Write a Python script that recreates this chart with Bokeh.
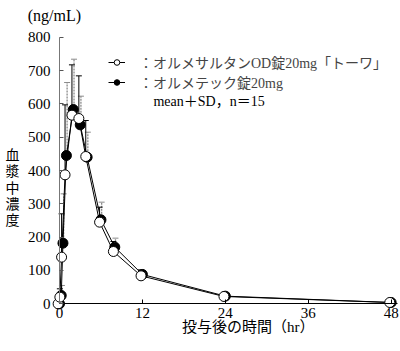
from bokeh.plotting import figure
from bokeh.models import (ColumnDataSource, Whisker, TeeHead, Label, Legend,
                          LegendItem, FixedTicker, Range1d)
from bokeh.transform import dodge
from bokeh.embed import file_html
from bokeh.resources import INLINE

# ---- data ----
hours = [0, 0.25, 0.5, 1, 2, 3, 4, 6, 8, 12, 24, 48]
od_mean = [0, 20, 140, 387, 566, 556, 442, 245, 157, 84, 22, 4]
od_sd = [0, 25, 130, 210, 151, 128, 108, 45, 30, 18, 6, 2]
ref_mean = [0, 25, 182, 445, 583, 537, 440, 252, 170, 88, 23, 4]
ref_sd = [0, 30, 148, 219, 151, 86, 75, 53, 27, 12, 5, 2]
x_ticks = [0, 12, 24, 36, 48]
y_ticks = [0, 100, 200, 300, 400, 500, 600, 700, 800]
od_name = "：オルメサルタンOD錠20mg「トーワ」"
ref_name = "：オルメテック錠20mg"
note = "mean＋SD，n＝15"
x_title = "投与後の時間（hr）"
y_title = "血\n漿\n中\n濃\n度"
unit = "(ng/mL)"

SERIF = "'Liberation Serif', 'Noto Sans CJK JP'"

src = ColumnDataSource(dict(
    t=hours,
    od=od_mean, od_top=[m + s for m, s in zip(od_mean, od_sd)],
    ref=ref_mean, ref_top=[m + s for m, s in zip(ref_mean, ref_sd)],
))

# frame covers the whole canvas; axes are placed at x=0 / y=0
p = figure(width=400, height=351, output_backend="svg", toolbar_location=None,
           x_range=Range1d(-8.54, 49.35), y_range=Range1d(-143.1, 910.1),
           min_border_left=0, min_border_right=0, min_border_top=0,
           min_border_bottom=0)
p.outline_line_color = None
p.grid.visible = False
p.background_fill_color = "white"

# error bars (upper only)
w_ref = Whisker(base=dodge("t", 0.1), lower="ref", upper="ref_top", source=src,
                dimension="height", line_color="#8a8a8a", line_width=1.3,
                line_dash="2 1", lower_head=None,
                upper_head=TeeHead(size=6, line_color="#8a8a8a", line_width=1),
                level="underlay")
w_od = Whisker(base=dodge("t", -0.2), lower="od", upper="od_top", source=src,
               dimension="height", line_color="black", line_width=1,
               lower_head=None,
               upper_head=TeeHead(size=6, line_color="black", line_width=1),
               level="underlay")
p.add_layout(w_ref)
p.add_layout(w_od)

# reference product (filled)
l_ref = p.line(x="t", y="ref", source=src, line_color="black", line_width=1)
c_ref = p.scatter(x="t", y="ref", source=src, size=10, marker="circle",
                  fill_color="black", line_color="black", line_width=1)
# test product (open), drawn slightly left
l_od = p.line(x=dodge("t", -0.2), y="od", source=src, line_color="black",
              line_width=1)
c_od = p.scatter(x=dodge("t", -0.2), y="od", source=src, size=10,
                 marker="circle", fill_color="white", line_color="black",
                 line_width=1)

# axes
xa = p.xaxis[0]
ya = p.yaxis[0]
xa.fixed_location = 0
ya.fixed_location = 0
xa.bounds = (0, 48.9)
ya.bounds = (0, 800)
xa.ticker = FixedTicker(ticks=x_ticks)
ya.ticker = FixedTicker(ticks=y_ticks)
xa.minor_tick_line_color = None
ya.minor_tick_line_color = None
for ax in (xa, ya):
    ax.major_tick_in = 4
    ax.major_tick_out = 0
    ax.major_label_text_font = "Liberation Serif"
    ax.major_label_text_font_size = "15px"
    ax.major_label_text_color = "black"
xa.axis_line_color = "black"
xa.major_tick_line_color = "black"
ya.axis_line_color = "#777777"
ya.major_tick_line_color = "#555555"
xa.major_label_standoff = 4
ya.major_label_standoff = 9

# texts
p.add_layout(Label(x=-4.6, y=865, text=unit, text_font=SERIF,
                   text_font_size="16px", text_baseline="middle",
                   text_align="left", text_color="black"))
p.add_layout(Label(x=-6.8, y=347, text=y_title, text_font=SERIF,
                   text_font_size="14px", text_baseline="middle",
                   text_align="center", text_line_height=1.08,
                   text_color="black"))
p.add_layout(Label(x=27.3, y=-71, text=x_title, text_font=SERIF,
                   text_font_size="15px", text_baseline="middle",
                   text_align="center", text_color="black"))
p.add_layout(Label(x=13.6, y=607, text=note, text_font=SERIF,
                   text_font_size="14px", text_baseline="middle",
                   text_align="left", text_color="black"))

legend = Legend(items=[LegendItem(label=od_name, renderers=[l_od, c_od]),
                       LegendItem(label=ref_name, renderers=[l_ref, c_ref])],
                location=(108, 259), padding=0, margin=0, spacing=0,
                glyph_width=17, glyph_height=14, label_height=14,
                label_standoff=14, label_text_font=SERIF,
                label_text_font_size="14px", border_line_color=None,
                background_fill_alpha=0)
p.add_layout(legend)

open("out.html", "w").write(file_html(p, INLINE))
